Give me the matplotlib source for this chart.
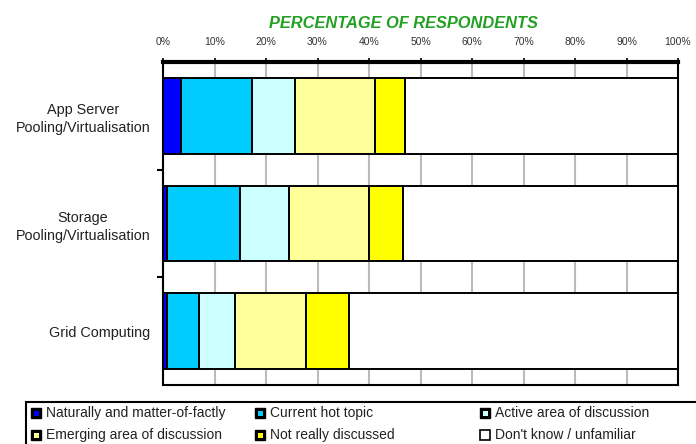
import matplotlib
matplotlib.use("Agg")
import matplotlib.pyplot as plt
from matplotlib.patches import Rectangle
import numpy as np

plt.rcParams['font.family'] = ['Liberation Sans', 'DejaVu Sans']

categories = ["App Server\nPooling/Virtualisation", "Storage\nPooling/Virtualisation", "Grid Computing"]
series_names = ["Naturally and matter-of-factly", "Current hot topic", "Active area of discussion",
                "Emerging area of discussion", "Not really discussed", "Don't know / unfamiliar"]
naturally = [3.5, 0.8, 0.7]
hot_topic = [13.8, 14.2, 6.2]
active = [8.4, 9.4, 7.1]
emerging = [15.4, 15.6, 13.8]
not_really = [5.9, 6.6, 8.3]
dont_know = [53.0, 53.4, 63.9]
series = [naturally, hot_topic, active, emerging, not_really, dont_know]
colors = ["#0000FF", "#00CCFF", "#CCFFFF", "#FFFF99", "#FFFF00", "#FFFFFF"]
xticklabels = ["0%", "10%", "20%", "30%", "40%", "50%", "60%", "70%", "80%", "90%", "100%"]

fig = plt.figure(figsize=(6.96, 4.44), dpi=100)
W, H = 696, 444
ax = fig.add_axes([163 / W, (H - 385) / H, 515 / W, 323 / H])

y = np.arange(len(categories))
left = np.zeros(len(categories))
for vals, c in zip(series, colors):
    ax.barh(y, vals, left=left, height=0.70, color=c, edgecolor="black", linewidth=1.4, zorder=3)
    left += np.array(vals)

ax.set_xlim(0, 100)
ax.set_ylim(2.5, -0.5)
ax.set_xticks(np.arange(0, 101, 10))
ax.set_xticklabels(xticklabels, fontsize=7.5, color="#333333")
ax.xaxis.tick_top()
ax.tick_params(axis='x', direction='out', length=3, width=1.2, pad=8)
ax.grid(axis='x', color="#BBBBBB", linewidth=1.5, zorder=0)
ax.set_yticks(y)
ax.set_yticklabels(categories, fontsize=10.4, color="#222222", multialignment='center',
                   linespacing=1.35)
ax.tick_params(axis='y', which='major', length=0, pad=9)
ax.set_yticks([0.5, 1.5], minor=True)
ax.tick_params(axis='y', which='minor', length=4, width=1.5, direction='out')
for s in ax.spines.values():
    s.set_linewidth(1.5)
ax.spines['top'].set_linewidth(3)

fig.text(403 / W, 1 - 23 / H, "PERCENTAGE OF RESPONDENTS", ha='center', va='center',
         fontsize=11.8, fontweight='bold', fontstyle='italic', color="#22A022")

# legend drawn in pixel coordinates
lax = fig.add_axes([0, 0, 1, 1], zorder=-1)
lax.set_xlim(0, W)
lax.set_ylim(H, 0)
lax.axis('off')
lax.add_patch(Rectangle((26, 402), 700, 60, facecolor='white', edgecolor='black', linewidth=1.5))
pos = [(31, 413), (255, 413), (480, 413), (31, 435), (255, 435), (480, 435)]
for (px, py), name, c in zip(pos, series_names, colors):
    if c == "#FFFFFF":
        lax.add_patch(Rectangle((px, py - 5), 10, 10, facecolor='white', edgecolor='black', linewidth=1.2))
    else:
        lax.add_patch(Rectangle((px, py - 5), 10, 10, facecolor='black', edgecolor='black', linewidth=1.0))
        lax.add_patch(Rectangle((px + 2.5, py - 2.5), 5, 5, facecolor=c, edgecolor='none'))
    lax.text(px + 15, py, name, fontsize=10, va='center', ha='left', color="#222222")

fig.savefig("out.png", dpi=100)
